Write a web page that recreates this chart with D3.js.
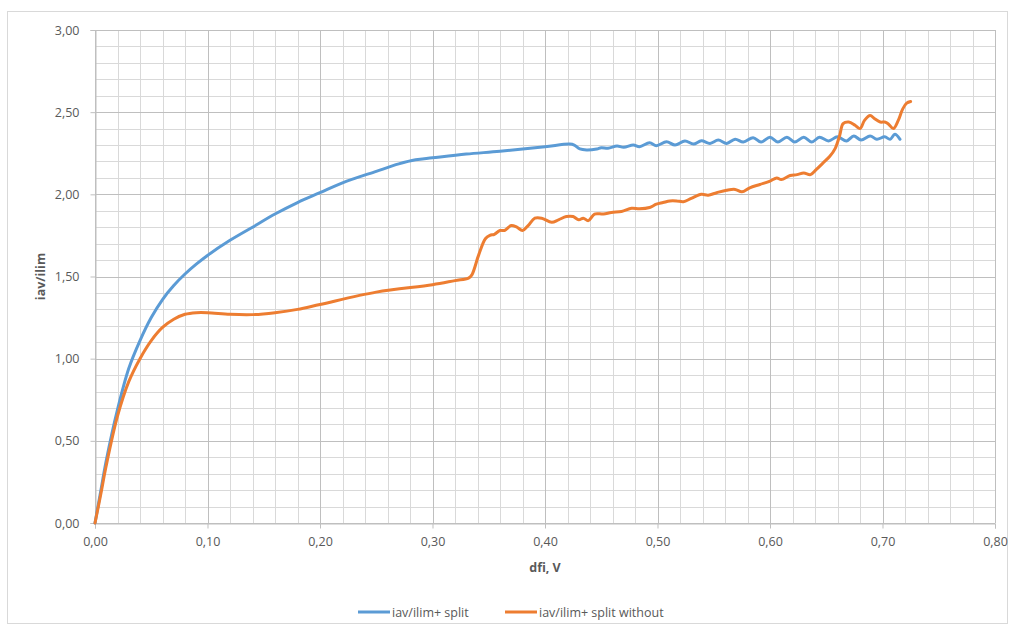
<!DOCTYPE html>
<html>
<head>
<meta charset="utf-8">
<script src="https://cdn.jsdelivr.net/npm/d3@7"></script>
<style>
  body { margin: 0; background: #fff; }
  text { font-family: "Open Sans", "Liberation Sans", sans-serif; fill: #595959; }
</style>
</head>
<body>
<svg class="svg" width="1014" height="628"></svg>
<script>
// series: [dfi, iav/ilim]
var splitData = [[0,0],[0.005,0.19],[0.01,0.38],[0.02,0.69],[0.03,0.94],[0.04,1.11],[0.05,1.25],[0.06,1.36],[0.07,1.445],[0.08,1.515],[0.09,1.575],[0.10,1.628],[0.12,1.72],[0.14,1.80],[0.16,1.88],[0.18,1.95],[0.20,2.01],[0.22,2.07],[0.25,2.14],[0.27,2.185],[0.285,2.21],[0.30,2.222],[0.33,2.245],[0.36,2.262],[0.40,2.29],[0.422,2.306],[0.426,2.30],[0.431,2.276],[0.437,2.27],[0.446,2.276],[0.450,2.284],[0.456,2.280],[0.464,2.294],[0.470,2.286],[0.4785,2.30],[0.484,2.29],[0.493,2.314],[0.499,2.296],[0.508,2.32],[0.5156,2.30],[0.5244,2.325],[0.532,2.306],[0.539,2.326],[0.5467,2.31],[0.554,2.33],[0.5615,2.31],[0.569,2.335],[0.5763,2.318],[0.585,2.345],[0.592,2.318],[0.600,2.347],[0.607,2.318],[0.615,2.347],[0.622,2.318],[0.630,2.347],[0.637,2.318],[0.644,2.347],[0.652,2.325],[0.660,2.35],[0.668,2.325],[0.6745,2.355],[0.681,2.33],[0.689,2.355],[0.695,2.335],[0.702,2.35],[0.7067,2.335],[0.711,2.365],[0.7156,2.335]];

var splitWithoutData = [[0,0],[0.005,0.17],[0.01,0.35],[0.02,0.65],[0.03,0.86],[0.04,1.00],[0.05,1.11],[0.06,1.19],[0.07,1.24],[0.08,1.27],[0.09,1.28],[0.10,1.28],[0.12,1.27],[0.14,1.268],[0.16,1.28],[0.18,1.30],[0.20,1.33],[0.25,1.405],[0.30,1.45],[0.32,1.475],[0.332,1.49],[0.335,1.51],[0.341,1.63],[0.347,1.73],[0.351,1.75],[0.355,1.757],[0.360,1.78],[0.364,1.78],[0.370,1.81],[0.375,1.80],[0.380,1.78],[0.385,1.81],[0.391,1.855],[0.397,1.855],[0.406,1.83],[0.412,1.845],[0.419,1.865],[0.425,1.865],[0.430,1.845],[0.434,1.855],[0.4385,1.84],[0.444,1.88],[0.452,1.88],[0.459,1.89],[0.468,1.895],[0.477,1.915],[0.484,1.912],[0.493,1.92],[0.499,1.94],[0.505,1.95],[0.511,1.96],[0.517,1.96],[0.523,1.955],[0.530,1.975],[0.539,2.00],[0.545,1.995],[0.5526,2.01],[0.5615,2.025],[0.569,2.03],[0.575,2.015],[0.582,2.04],[0.591,2.06],[0.600,2.08],[0.606,2.10],[0.610,2.09],[0.618,2.115],[0.624,2.12],[0.630,2.13],[0.636,2.12],[0.641,2.15],[0.647,2.19],[0.653,2.23],[0.658,2.28],[0.662,2.36],[0.665,2.43],[0.670,2.44],[0.6756,2.42],[0.680,2.40],[0.684,2.45],[0.689,2.48],[0.693,2.46],[0.698,2.44],[0.702,2.44],[0.705,2.43],[0.7096,2.40],[0.714,2.45],[0.718,2.52],[0.7215,2.555],[0.725,2.565]];

var seriesNames = ['iav/ilim+ split', 'iav/ilim+ split without'];
var seriesColors = ['#5b9bd5', '#ed7d31'];
var xTicks = [0, 0.1, 0.2, 0.3, 0.4, 0.5, 0.6, 0.7, 0.8];
var yTicks = [0, 0.5, 1, 1.5, 2, 2.5, 3];

var svg = d3.select('.svg');

//chart border
svg.append('rect')
  .attr('x', 7.5).attr('y', 11.5)
  .attr('width', 1000).attr('height', 612)
  .attr('fill', 'none').attr('stroke', '#d9d9d9');

var x = d3.scaleLinear().domain([0, 0.8]).range([95, 995]);
var y = d3.scaleLinear().domain([0, 3]).range([523, 30]);
var fmt = d => d3.format('.2f')(d).replace('.', ',');
//snap to pixel grid (rounding with a small offset so float noise doesn't split lines)
var px = v => Math.round(v + 1e-6) + 0.5;

//minor grid (0.02 on x, 0.1 on y)
var grid = svg.append('g');
grid.selectAll('.vminor')
  .data(d3.range(0, 41).map(i => i / 50))
  .enter().append('line')
  .attr('x1', d => px(x(d))).attr('x2', d => px(x(d)))
  .attr('y1', y(0)).attr('y2', y(3))
  .attr('stroke', '#d9d9d9');
grid.selectAll('.hminor')
  .data(d3.range(0, 31).map(i => i / 10))
  .enter().append('line')
  .attr('x1', x(0)).attr('x2', x(0.8))
  .attr('y1', d => px(y(d))).attr('y2', d => px(y(d)))
  .attr('stroke', '#d9d9d9');

//major grid
grid.selectAll('.vmajor')
  .data(xTicks)
  .enter().append('line')
  .attr('x1', d => px(x(d))).attr('x2', d => px(x(d)))
  .attr('y1', y(0)).attr('y2', y(3))
  .attr('stroke', '#bfbfbf');
grid.selectAll('.hmajor')
  .data(yTicks)
  .enter().append('line')
  .attr('x1', x(0)).attr('x2', x(0.8))
  .attr('y1', d => px(y(d))).attr('y2', d => px(y(d)))
  .attr('stroke', '#bfbfbf');

//axes
var xAxis = svg.append('g')
  .attr('transform', 'translate(0,' + px(y(0)) + ')')
  .call(d3.axisBottom(x).tickValues(xTicks).tickFormat(fmt).tickSizeOuter(0).tickSize(5).tickPadding(9));
var yAxis = svg.append('g')
  .attr('transform', 'translate(' + px(x(0)) + ',0)')
  .call(d3.axisLeft(y).tickValues(yTicks).tickFormat(fmt).tickSizeOuter(0).tickSize(5).tickPadding(11));
[xAxis, yAxis].forEach(function (ax) {
  ax.select('.domain').attr('stroke', '#bfbfbf');
  ax.selectAll('.tick line').attr('stroke', '#bfbfbf');
  ax.selectAll('.tick text').attr('fill', '#595959').style('font-size', '12.5px')
    .style('font-family', '"Open Sans", sans-serif');
});

//axis titles
svg.append('text')
  .attr('x', (x(0) + x(0.8)) / 2).attr('y', 572)
  .attr('text-anchor', 'middle')
  .style('font-size', '12.5px').style('font-weight', 'bold')
  .text('dfi, V');
svg.append('text')
  .attr('transform', 'translate(45,' + ((y(0) + y(3)) / 2) + ') rotate(-90)')
  .attr('text-anchor', 'middle')
  .style('font-size', '12.5px').style('font-weight', 'bold')
  .text('iav/ilim');

//series lines
var line = d3.line()
  .x(d => x(d[0]))
  .y(d => y(d[1]))
  .curve(d3.curveCatmullRom.alpha(0.5));

[splitData, splitWithoutData].forEach(function (data, i) {
  svg.append('path')
    .datum(data)
    .attr('d', line)
    .attr('fill', 'none')
    .attr('stroke', seriesColors[i])
    .attr('stroke-width', 3)
    .attr('stroke-linejoin', 'round')
    .attr('stroke-linecap', 'round');
});

//legend
var legendX = [358, 505];
var legend = svg.append('g');
seriesNames.forEach(function (name, i) {
  legend.append('line')
    .attr('x1', legendX[i]).attr('x2', legendX[i] + 32)
    .attr('y1', 612).attr('y2', 612)
    .attr('stroke', seriesColors[i]).attr('stroke-width', 3);
  legend.append('text')
    .attr('x', legendX[i] + 34).attr('y', 616.5)
    .style('font-size', '12.5px')
    .text(name);
});
</script>
</body>
</html>
